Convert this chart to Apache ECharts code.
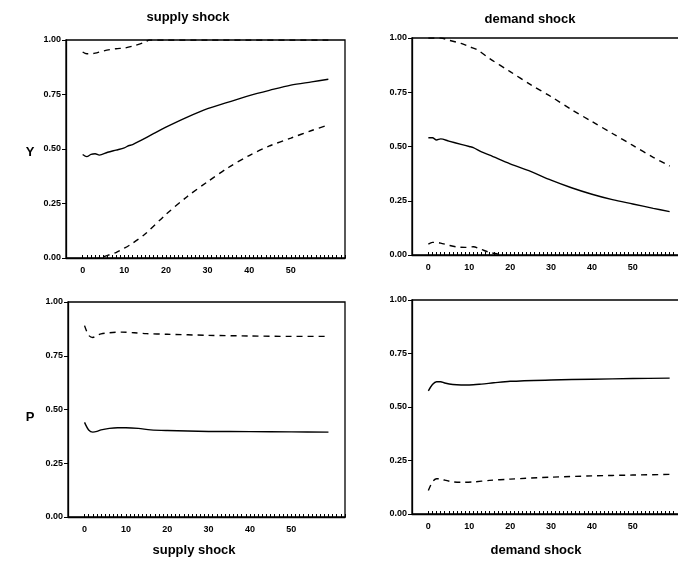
<!DOCTYPE html>
<html><head><meta charset="utf-8">
<script src="https://cdn.jsdelivr.net/npm/echarts@6/dist/echarts.min.js"></script>
<style>html,body{margin:0;padding:0;background:#fff}#c{width:678px;height:567px}</style>
</head><body><div id="c"></div>
<script>
// Y response, supply shock
var ysMidT = [0, 1, 2, 3, 4, 6, 8, 10, 11, 12, 14, 17, 20, 25, 30, 35, 40, 45, 50, 55, 59];
var ysMid  = [0.475, 0.465, 0.475, 0.478, 0.472, 0.485, 0.495, 0.505, 0.515, 0.52, 0.54, 0.57, 0.60, 0.645, 0.685, 0.715, 0.745, 0.77, 0.793, 0.808, 0.82];
var ysHiT  = [0, 1, 2, 3, 5, 8, 10, 12, 15, 16, 20, 30, 40, 50, 59];
var ysHi   = [0.945, 0.937, 0.937, 0.94, 0.95, 0.96, 0.963, 0.972, 0.99, 1.0, 1.0, 1.0, 1.0, 1.0, 1.0];
var ysLoT  = [0, 2, 4, 6, 8, 10, 12, 15, 20, 25, 30, 35, 40, 45, 50, 55, 59];
var ysLo   = [-0.02, -0.01, 0.0, 0.012, 0.025, 0.045, 0.068, 0.11, 0.20, 0.28, 0.35, 0.415, 0.47, 0.515, 0.55, 0.585, 0.61];

// Y response, demand shock
var ydMidT = [0, 1, 2, 3, 5, 8, 10, 11, 13, 15, 20, 25, 30, 35, 40, 45, 50, 55, 59];
var ydMid  = [0.54, 0.54, 0.53, 0.535, 0.525, 0.51, 0.50, 0.495, 0.475, 0.46, 0.42, 0.385, 0.345, 0.31, 0.28, 0.255, 0.235, 0.215, 0.20];
var ydHiT  = [0, 3, 5, 8, 10, 12, 15, 20, 25, 30, 35, 40, 45, 50, 55, 59];
var ydHi   = [1.0, 1.0, 0.99, 0.975, 0.96, 0.945, 0.905, 0.845, 0.785, 0.73, 0.67, 0.615, 0.56, 0.505, 0.45, 0.41];
var ydLoT  = [0, 1, 2, 3, 5, 7, 9, 11, 13, 15, 17, 19, 22];
var ydLo   = [0.05, 0.058, 0.058, 0.055, 0.045, 0.037, 0.035, 0.038, 0.025, 0.012, 0.004, -0.005, -0.015];

// P response, supply shock
var psMidT = [0, 1, 2, 3, 4, 6, 8, 10, 13, 16, 20, 30, 40, 50, 59];
var psMid  = [0.44, 0.405, 0.395, 0.398, 0.405, 0.412, 0.415, 0.415, 0.412, 0.405, 0.402, 0.398, 0.397, 0.396, 0.395];
var psHiT  = [0, 1, 2, 3, 4, 6, 9, 12, 15, 20, 30, 40, 50, 59];
var psHi   = [0.89, 0.845, 0.835, 0.845, 0.852, 0.857, 0.86, 0.857, 0.853, 0.85, 0.845, 0.842, 0.84, 0.84];

// P response, demand shock
var pdMidT = [0, 1, 2, 3, 4, 6, 8, 10, 13, 16, 20, 30, 40, 50, 59];
var pdMid  = [0.575, 0.605, 0.618, 0.618, 0.612, 0.605, 0.603, 0.603, 0.607, 0.613, 0.62, 0.626, 0.63, 0.633, 0.635];
var pdLoT  = [0, 1, 2, 3, 4, 6, 8, 11, 15, 20, 30, 40, 50, 59];
var pdLo   = [0.11, 0.15, 0.165, 0.165, 0.158, 0.15, 0.148, 0.15, 0.157, 0.163, 0.172, 0.178, 0.182, 0.185];

var xLabels = [0, 10, 20, 30, 40, 50];
var yTicks = [0, 0.25, 0.5, 0.75, 1];

var font = 'Liberation Sans, Arial, sans-serif';
var xTickVals = [];
for (var i = 0; i <= 63; i++) xTickVals.push(i);

var grids = [
  { left: 66, top: 40, width: 279, height: 218 },
  { left: 412, top: 38, width: 274, height: 217 },
  { left: 68, top: 302, width: 277, height: 215 },
  { left: 412, top: 300, width: 274, height: 214 }
];

function xAx(gi) {
  return {
    gridIndex: gi, type: 'value', min: -4, max: 63,
    axisLine: { onZero: false, lineStyle: { color: '#000', width: 1.3 } },
    axisTick: { inside: true, length: 3, customValues: xTickVals, lineStyle: { color: '#000' } },
    axisLabel: { customValues: xLabels, color: '#000', fontSize: 9, fontWeight: 'bold', fontFamily: font, margin: 8 },
    splitLine: { show: false }
  };
}
function yAx(gi) {
  return {
    gridIndex: gi, type: 'value', min: 0, max: 1, interval: 0.25,
    axisLine: { onZero: false, lineStyle: { color: '#000', width: 1.3 } },
    axisTick: { customValues: yTicks, length: 4, lineStyle: { color: '#000' } },
    axisLabel: {
      customValues: yTicks,
      color: '#000', fontSize: 9, fontWeight: 'bold', fontFamily: font, margin: 5,
      formatter: function (v) { return v.toFixed(2); }
    },
    splitLine: { show: false }
  };
}
function mk(gi, t, v, dashed) {
  return {
    type: 'line', xAxisIndex: gi, yAxisIndex: gi,
    data: t.map(function (x, k) { return [x, v[k]]; }),
    showSymbol: false, symbol: 'none', smooth: 0.3, silent: true, clip: true,
    lineStyle: { color: '#000', width: 1.4, type: dashed ? [6, 5] : 'solid' }
  };
}
function label(txt, x, y) {
  return { type: 'text', x: x, y: y, style: { text: txt, font: 'bold 13px ' + font, fill: '#000', align: 'center', verticalAlign: 'middle' } };
}

var chart = echarts.init(document.getElementById('c'));
chart.setOption({
  animation: false,
  backgroundColor: '#fff',
  grid: grids.map(function (g) {
    return Object.assign({ show: true, borderColor: '#000', borderWidth: 1.3, backgroundColor: 'transparent', outerBoundsMode: 'none', containLabel: false }, g);
  }),
  xAxis: [xAx(0), xAx(1), xAx(2), xAx(3)],
  yAxis: [yAx(0), yAx(1), yAx(2), yAx(3)],
  series: [
    mk(0, ysMidT, ysMid, false), mk(0, ysHiT, ysHi, true), mk(0, ysLoT, ysLo, true),
    mk(1, ydMidT, ydMid, false), mk(1, ydHiT, ydHi, true), mk(1, ydLoT, ydLo, true),
    mk(2, psMidT, psMid, false), mk(2, psHiT, psHi, true),
    mk(3, pdMidT, pdMid, false), mk(3, pdLoT, pdLo, true)
  ],
  graphic: [
    label('supply shock', 188, 17),
    label('demand shock', 530, 19),
    label('Y', 30, 152),
    label('P', 30, 417),
    label('supply shock', 194, 550),
    label('demand shock', 536, 550)
  ]
});
</script>
</body></html>
